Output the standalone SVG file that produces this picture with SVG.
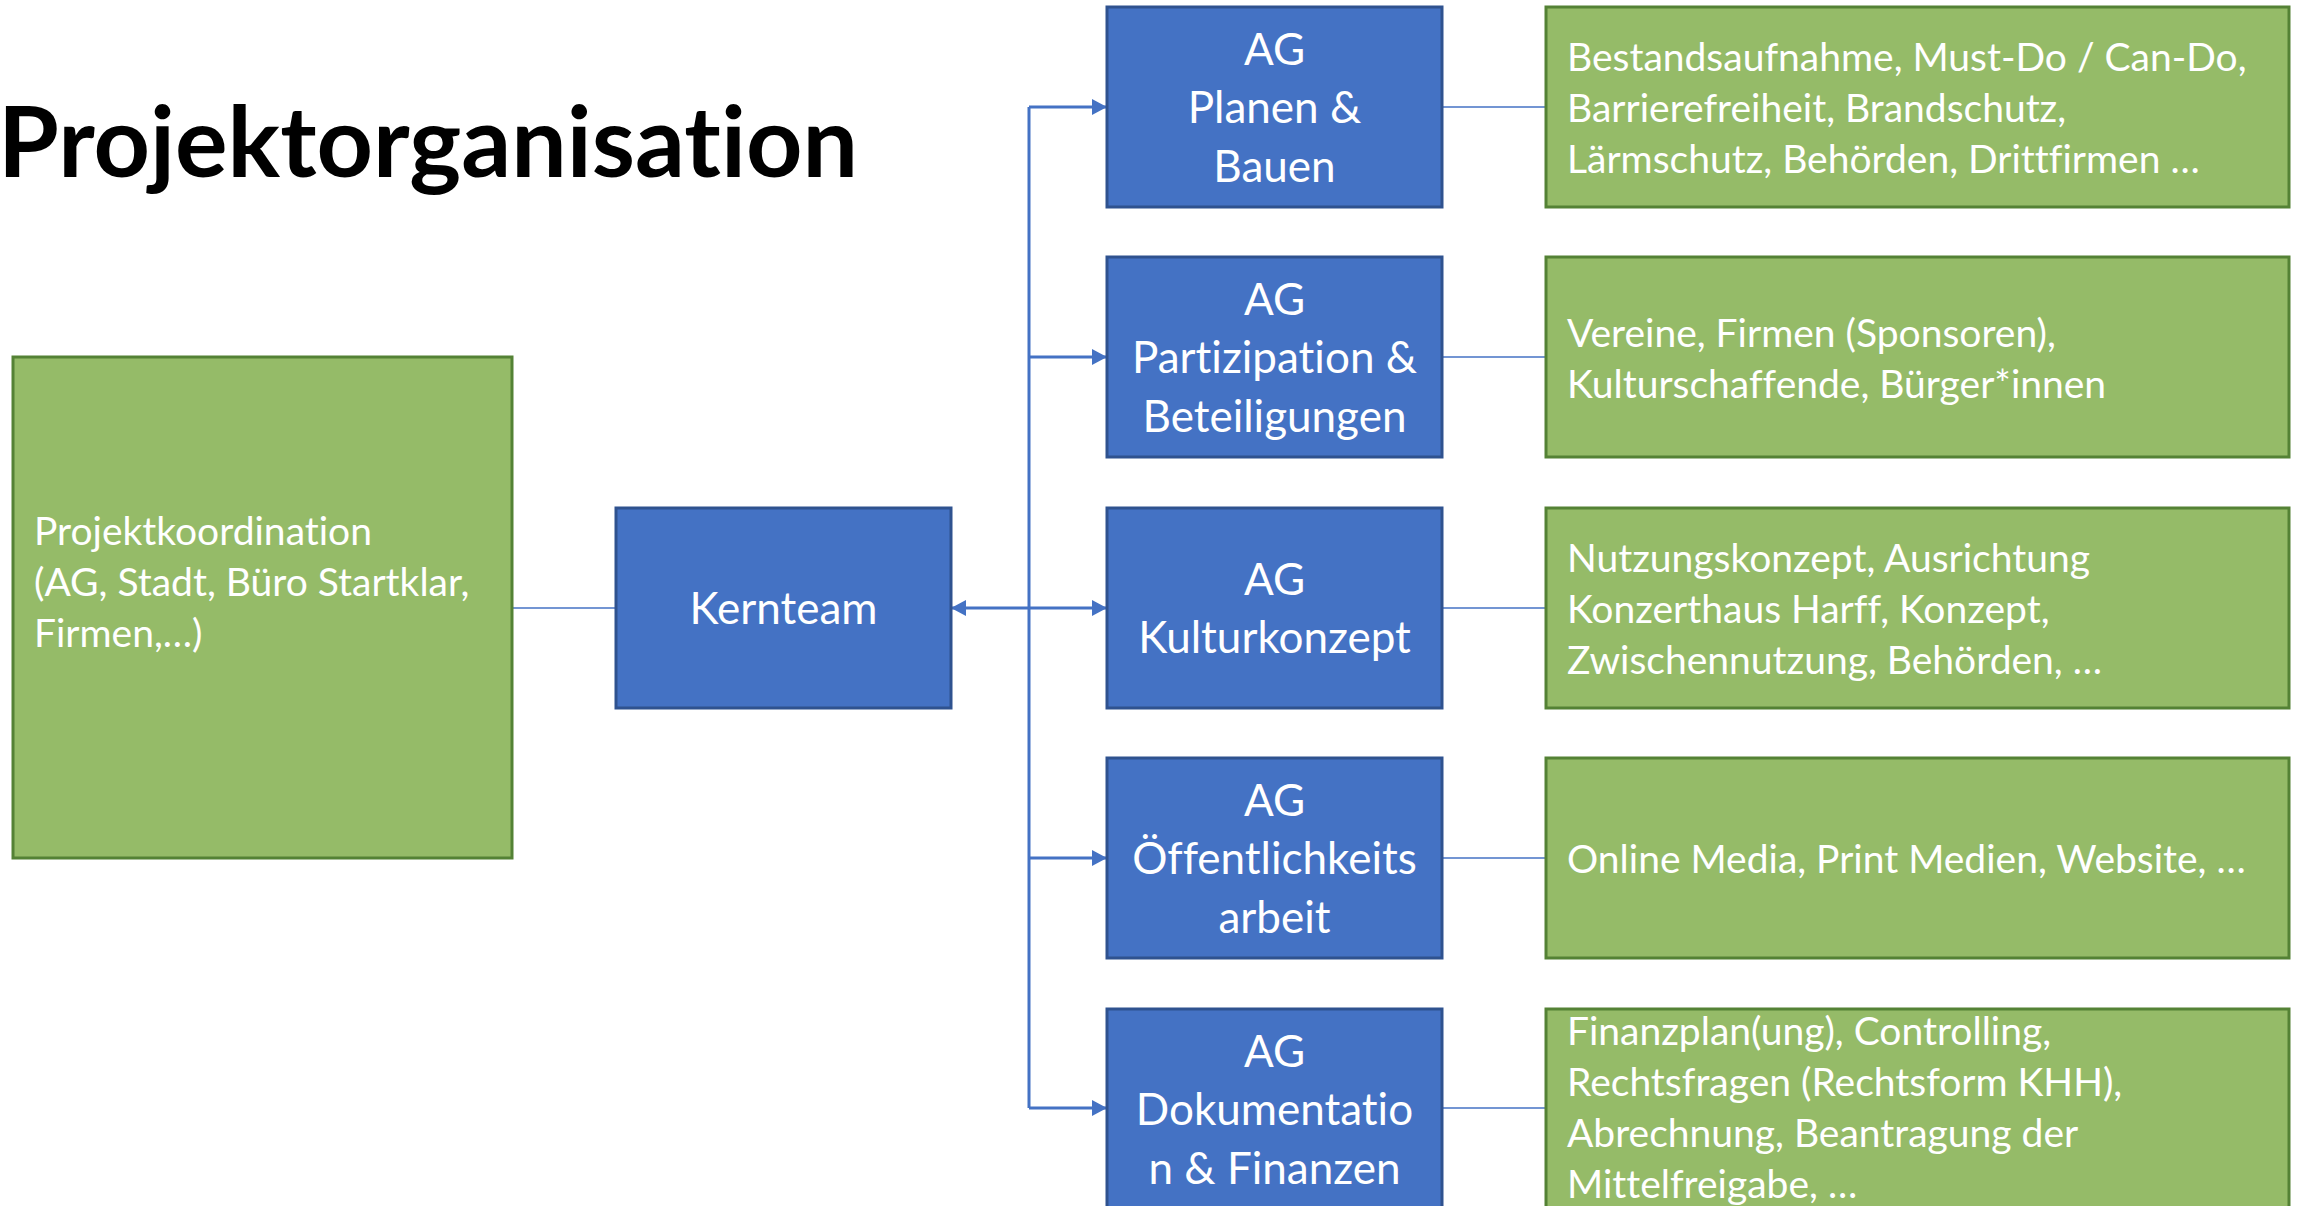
<svg xmlns="http://www.w3.org/2000/svg" width="2300" height="1206" viewBox="0 0 2300 1206">
  <style>
    text { font-variant-ligatures: none; font-feature-settings: "liga" 0, "clig" 0; }
    .blue { fill: #4472C4; stroke: #2F528F; stroke-width: 3; }
    .green { fill: #95BB68; stroke: #548235; stroke-width: 3; }
    .bt { font-family: Lato, "Open Sans", sans-serif; font-size: 44px; fill: #FFFFFF; text-anchor: middle; }
    .gt { font-family: Lato, "Open Sans", sans-serif; font-size: 39px; fill: #FFFFFF; }
    .title { font-family: Lato, "Open Sans", sans-serif; font-size: 97px; font-weight: bold; fill: #000000; }
    .thin { stroke: #4472C4; stroke-width: 1.6; fill: none; }
    .thick { stroke: #4472C4; stroke-width: 3; fill: none; }
  </style>
  <defs>
    <marker id="arr" viewBox="0 0 15 16" refX="15" refY="8" markerWidth="15" markerHeight="16" markerUnits="userSpaceOnUse" orient="auto">
      <path d="M0,0 L15,8 L0,16 z" fill="#4472C4"/>
    </marker>
  </defs>
  <rect width="2300" height="1206" fill="#FFFFFF"/>

  <text class="title" x="-2" y="177" textLength="860" lengthAdjust="spacingAndGlyphs">Projektorganisation</text>

  <g id="connectors">
    <line class="thin" x1="512" y1="608" x2="616" y2="608"/>
    <line class="thick" x1="1029" y1="107" x2="1029" y2="1108"/>
    <line class="thick" x1="1029" y1="107" x2="1107" y2="107" marker-end="url(#arr)"/>
    <line class="thick" x1="1029" y1="357" x2="1107" y2="357" marker-end="url(#arr)"/>
    <line class="thick" x1="1029" y1="608" x2="1107" y2="608" marker-end="url(#arr)"/>
    <line class="thick" x1="1029" y1="608" x2="951" y2="608" marker-end="url(#arr)"/>
    <line class="thick" x1="1029" y1="858" x2="1107" y2="858" marker-end="url(#arr)"/>
    <line class="thick" x1="1029" y1="1108" x2="1107" y2="1108" marker-end="url(#arr)"/>
    <line class="thin" x1="1442" y1="107" x2="1546" y2="107"/>
    <line class="thin" x1="1442" y1="357" x2="1546" y2="357"/>
    <line class="thin" x1="1442" y1="608" x2="1546" y2="608"/>
    <line class="thin" x1="1442" y1="858" x2="1546" y2="858"/>
    <line class="thin" x1="1442" y1="1108" x2="1546" y2="1108"/>
  </g>

  <g id="projektkoordination">
    <rect class="green" x="13" y="357" width="499" height="501"/>
    <text class="gt" x="34" y="545">Projektkoordination</text>
    <text class="gt" x="34" y="596">(AG, Stadt, Büro Startklar,</text>
    <text class="gt" x="34" y="647">Firmen,…)</text>
  </g>

  <g id="kernteam">
    <rect class="blue" x="616" y="508" width="335" height="200"/>
    <text class="bt" x="783.5" y="624">Kernteam</text>
  </g>

  <g id="ag-planen">
    <rect class="blue" x="1107" y="7" width="335" height="200"/>
    <text class="bt" x="1274.5" y="65">AG</text>
    <text class="bt" x="1274.5" y="123">Planen &amp;</text>
    <text class="bt" x="1274.5" y="182">Bauen</text>
  </g>

  <g id="ag-partizipation">
    <rect class="blue" x="1107" y="257" width="335" height="200"/>
    <text class="bt" x="1274.5" y="315">AG</text>
    <text class="bt" x="1274.5" y="373">Partizipation &amp;</text>
    <text class="bt" x="1274.5" y="432">Beteiligungen</text>
  </g>

  <g id="ag-kultur">
    <rect class="blue" x="1107" y="508" width="335" height="200"/>
    <text class="bt" x="1274.5" y="595">AG</text>
    <text class="bt" x="1274.5" y="653">Kulturkonzept</text>
  </g>

  <g id="ag-oeffentlichkeit">
    <rect class="blue" x="1107" y="758" width="335" height="200"/>
    <text class="bt" x="1274.5" y="816">AG</text>
    <text class="bt" x="1274.5" y="874">Öffentlichkeits</text>
    <text class="bt" x="1274.5" y="933">arbeit</text>
  </g>

  <g id="ag-doku">
    <rect class="blue" x="1107" y="1009" width="335" height="200"/>
    <text class="bt" x="1274.5" y="1067">AG</text>
    <text class="bt" x="1274.5" y="1125">Dokumentatio</text>
    <text class="bt" x="1274.5" y="1184">n &amp; Finanzen</text>
  </g>

  <g id="info-planen">
    <rect class="green" x="1546" y="7" width="743" height="200"/>
    <text class="gt" x="1567" y="71">Bestandsaufnahme, Must-Do / Can-Do,</text>
    <text class="gt" x="1567" y="122">Barrierefreiheit, Brandschutz,</text>
    <text class="gt" x="1567" y="173">Lärmschutz, Behörden, Drittfirmen …</text>
  </g>

  <g id="info-partizipation">
    <rect class="green" x="1546" y="257" width="743" height="200"/>
    <text class="gt" x="1567" y="347">Vereine, Firmen (Sponsoren),</text>
    <text class="gt" x="1567" y="398">Kulturschaffende, Bürger*innen</text>
  </g>

  <g id="info-kultur">
    <rect class="green" x="1546" y="508" width="743" height="200"/>
    <text class="gt" x="1567" y="572">Nutzungskonzept, Ausrichtung</text>
    <text class="gt" x="1567" y="623">Konzerthaus Harff, Konzept,</text>
    <text class="gt" x="1567" y="674">Zwischennutzung, Behörden, …</text>
  </g>

  <g id="info-oeffentlichkeit">
    <rect class="green" x="1546" y="758" width="743" height="200"/>
    <text class="gt" x="1567" y="873">Online Media, Print Medien, Website, …</text>
  </g>

  <g id="info-doku">
    <rect class="green" x="1546" y="1009" width="743" height="200"/>
    <text class="gt" x="1567" y="1045">Finanzplan(ung), Controlling,</text>
    <text class="gt" x="1567" y="1096">Rechtsfragen (Rechtsform KHH),</text>
    <text class="gt" x="1567" y="1147">Abrechnung, Beantragung der</text>
    <text class="gt" x="1567" y="1198">Mittelfreigabe, …</text>
  </g>
</svg>
